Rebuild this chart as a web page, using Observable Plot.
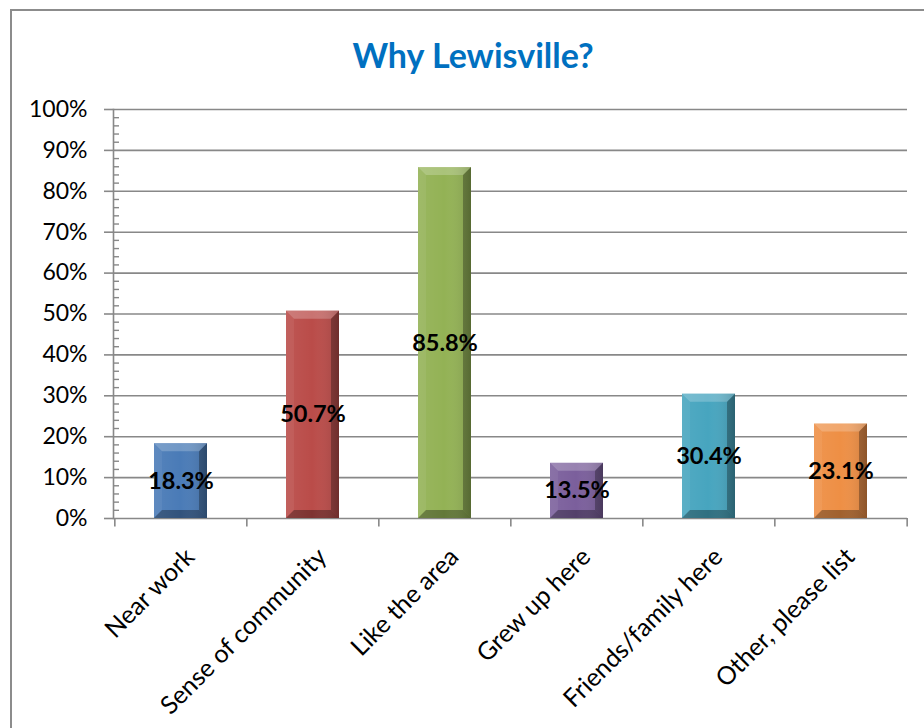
<!DOCTYPE html>
<html><head><meta charset="utf-8">
<script src="https://cdn.jsdelivr.net/npm/d3@7"></script>
<script src="https://cdn.jsdelivr.net/npm/@observablehq/plot@0.6"></script>
<style>
html,body{margin:0;padding:0;background:#fff;overflow:hidden;width:924px;height:728px}
#frame{position:absolute;left:10px;top:9px;width:1000px;height:800px;border:2px solid #8c8c8c;box-sizing:border-box}
#title{position:absolute;left:0;width:946px;top:38px;text-align:center;font-family:Lato;font-weight:bold;font-size:34px;color:#0070C0;line-height:34px}
#chart{position:absolute;left:0;top:0}
</style></head><body>
<div id="frame"></div>
<div id="title">Why Lewisville?</div>
<div id="chart"></div>
<script>
const categories = ["Near work", "Sense of community", "Like the area", "Grew up here", "Friends/family here", "Other, please list"];
const values = [0.183, 0.507, 0.858, 0.135, 0.304, 0.231];
const valueLabels = ["18.3%", "50.7%", "85.8%", "13.5%", "30.4%", "23.1%"];
const barColors = ["#4A7BB7", "#BA4C49", "#93B255", "#7B5F9C", "#47A5BF", "#EE8F45"];
const yTicks = [0, 0.1, 0.2, 0.3, 0.4, 0.5, 0.6, 0.7, 0.8, 0.9, 1];
const yMinorTicks = d3.range(0, 101, 2).filter(v => v % 10 !== 0).map(v => v / 100);

const rows = categories.map((c, i) => ({category: c, value: values[i], label: valueLabels[i], color: barColors[i]}));

const W = 924, H = 728, mL = 113, mR = 17, mT = 109, mB = 210;
const step = (W - mL - mR) / categories.length;
const axisColor = "#888888";

function bevel(index, scales, vals, dimensions, context, next) {
  const g = next(index, scales, vals, dimensions, context);
  const ns = "http://www.w3.org/2000/svg";
  const doc = context.document;
  const defs = doc.createElementNS(ns, "defs");
  defs.innerHTML = `<linearGradient id="faceGrad" x1="0" x2="1" y1="0" y2="0">
    <stop offset="0" stop-color="#fff" stop-opacity="0.06"/>
    <stop offset="0.5" stop-color="#fff" stop-opacity="0"/>
    <stop offset="1" stop-color="#000" stop-opacity="0.15"/></linearGradient>`;
  g.insertBefore(defs, g.firstChild);
  const b = 8;
  for (const r of Array.from(g.querySelectorAll("rect"))) {
    const x = +r.getAttribute("x"), y = +r.getAttribute("y");
    const w = +r.getAttribute("width"), h = +r.getAttribute("height");
    const add = (pts, fill, op) => {
      const p = doc.createElementNS(ns, "polygon");
      p.setAttribute("points", pts.map(q => q.join(",")).join(" "));
      p.setAttribute("fill", fill);
      p.setAttribute("fill-opacity", op);
      r.parentNode.insertBefore(p, r.nextSibling);
    };
    const face = doc.createElementNS(ns, "rect");
    face.setAttribute("x", x); face.setAttribute("y", y);
    face.setAttribute("width", w); face.setAttribute("height", h);
    face.setAttribute("fill", "url(#faceGrad)");
    r.parentNode.insertBefore(face, r.nextSibling);
    add([[x, y], [x + w, y], [x + w - b, y + b], [x + b, y + b]], "#fff", 0.22);
    add([[x, y + h], [x + w, y + h], [x + w - b, y + h - b], [x + b, y + h - b]], "#000", 0.32);
    add([[x, y], [x + b, y + b], [x + b, y + h - b], [x, y + h]], "#fff", 0.06);
    add([[x + w, y], [x + w - b, y + b], [x + w - b, y + h - b], [x + w, y + h]], "#000", 0.3);
  }
  return g;
}

const chart = Plot.plot({
  width: W, height: H,
  marginLeft: mL, marginRight: mR, marginTop: mT, marginBottom: mB,
  style: {fontFamily: "Lato", background: "transparent", overflow: "visible", color: "black"},
  x: {domain: categories, paddingInner: 0.6, paddingOuter: 0.3, axis: null},
  y: {domain: [0, 1], axis: null},
  color: {type: "identity"},
  marks: [
    Plot.gridY(yTicks, {stroke: axisColor, strokeOpacity: 1, strokeWidth: 1.6}),
    Plot.axisY(yTicks, {tickSize: 9, tickPadding: 17, tickFormat: d3.format(".0%"), fontSize: 23, stroke: axisColor, strokeWidth: 1.6, fill: "black", label: null}),
    Plot.axisY(yMinorTicks, {tickSize: 6, dx: 6, tickFormat: () => "", stroke: axisColor, strokeWidth: 1.4, label: null}),
    Plot.frame({anchor: "left", stroke: axisColor, strokeWidth: 1.6}),
    Plot.ruleX(categories, {x: d => d, dx: -step / 2, y1: 0, y2: -0.021, stroke: axisColor, strokeWidth: 1.6}),
    Plot.ruleX([categories[categories.length - 1]], {x: d => d, dx: step / 2, y1: 0, y2: -0.021, stroke: axisColor, strokeWidth: 1.6}),
    Plot.barY(rows, {x: "category", y: "value", fill: "color", render: bevel}),
    Plot.text(rows, {x: "category", y: d => d.value / 2, text: "label", fontWeight: "bold", fontSize: 23.5, fill: "black"}),
    Plot.text(categories, {x: d => d, frameAnchor: "bottom", rotate: -45, textAnchor: "end", lineAnchor: "bottom", dx: 15, dy: 40, fontSize: 25, fill: "black"})
  ]
});
document.getElementById("chart").appendChild(chart);
</script>
</body></html>
